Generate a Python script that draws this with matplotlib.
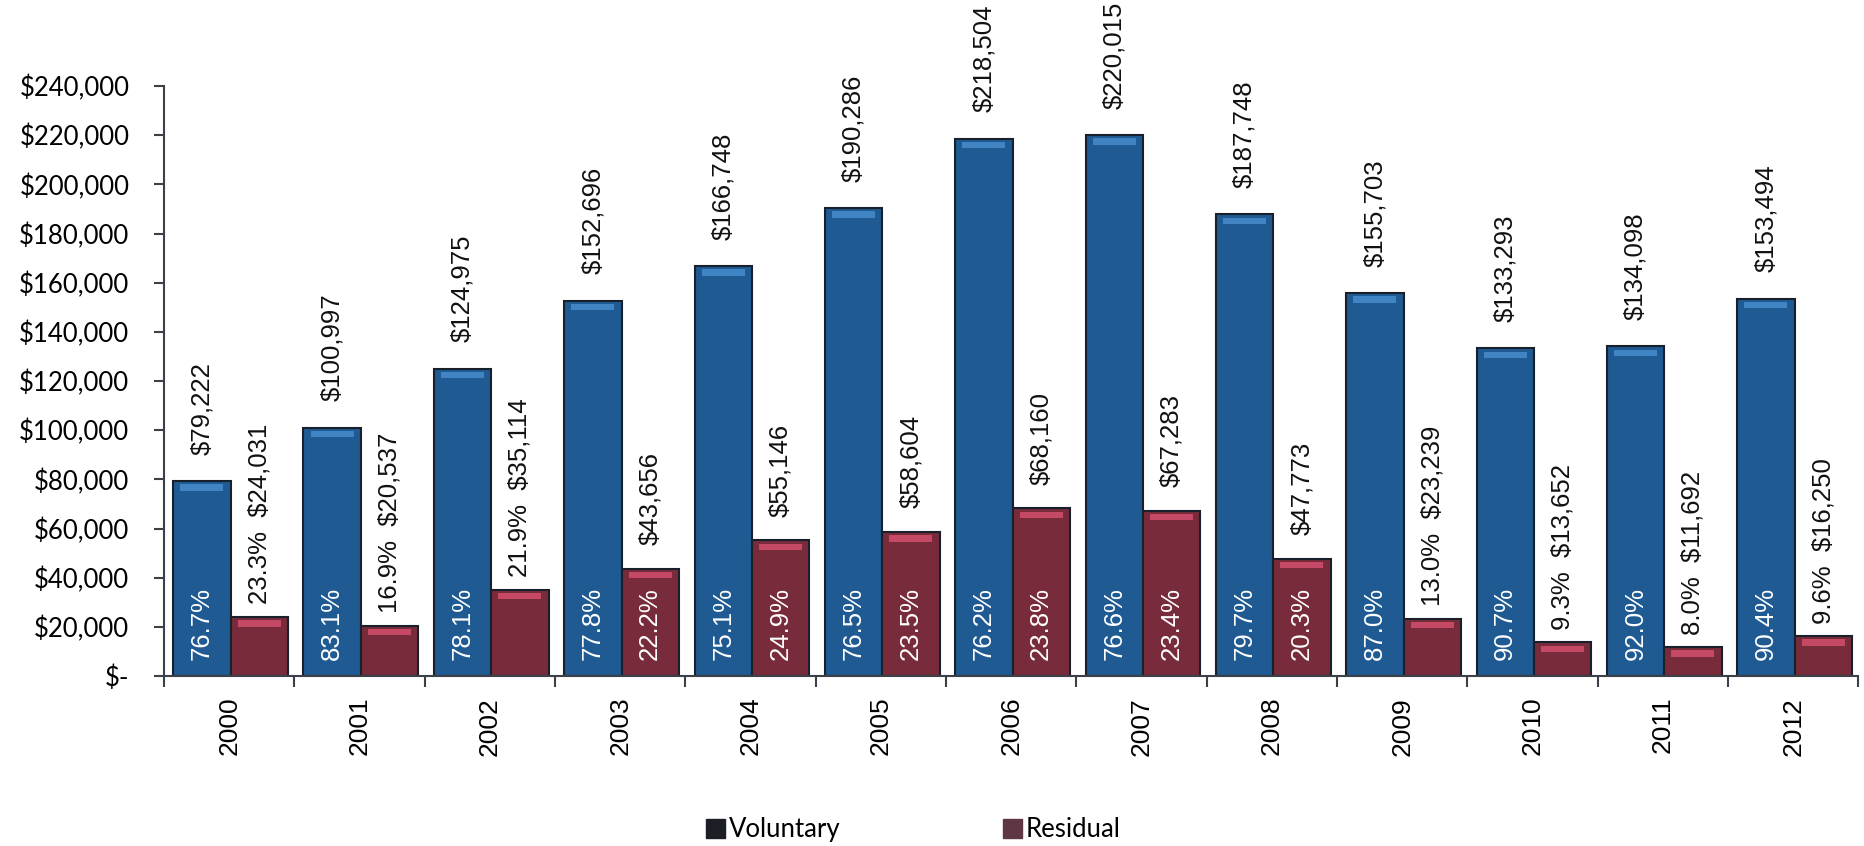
import matplotlib
matplotlib.use('Agg')
import matplotlib.pyplot as plt, numpy as np
from matplotlib.patches import Patch
from matplotlib.ticker import FuncFormatter, FixedLocator

years = ['2000', '2001', '2002', '2003', '2004', '2005', '2006', '2007', '2008', '2009', '2010', '2011', '2012']
voluntary = [79222, 100997, 124975, 152696, 166748, 190286, 218504, 220015, 187748, 155703, 133293, 134098, 153494]
residual = [24031, 20537, 35114, 43656, 55146, 58604, 68160, 67283, 47773, 23239, 13652, 11692, 16250]
vol_pct = ['76.7%', '83.1%', '78.1%', '77.8%', '75.1%', '76.5%', '76.2%', '76.6%', '79.7%', '87.0%', '90.7%', '92.0%', '90.4%']
res_pct = ['23.3%', '16.9%', '21.9%', '22.2%', '24.9%', '23.5%', '23.8%', '23.4%', '20.3%', '13.0%', '9.3%', '8.0%', '9.6%']

pal = {'b': '#1f5a93', 'bh': '#4a8fd0', 'r': '#782c3b', 'rh': '#d9506f', 'edge': '#18202c', 'ax': '#3c4048'}
lab_font = 'Liberation Sans'
tick_font = 'Lato'

fig = plt.figure(figsize=(18.64, 8.46), dpi=100)
ax = fig.add_axes([0.088, 0.2009, 0.909, 0.6974])

x = np.arange(len(years))
w = 0.44
xv, xr = x - 0.21, x + 0.23
ax.bar(xv, voluntary, width=w, color=pal['b'], edgecolor=pal['edge'], lw=1.5, zorder=2)
ax.bar(xr, residual, width=w, color=pal['r'], edgecolor=pal['edge'], lw=1.5, zorder=2)
# glossy strip under the top of each bar
hl = 2600
ax.bar(xv, hl, width=w * 0.75, bottom=np.array(voluntary) - hl - 1300, color=pal['bh'], lw=0, zorder=3, alpha=0.8)
ax.bar(xr, hl, width=w * 0.75, bottom=np.array(residual) - hl - 1300, color=pal['rh'], lw=0, zorder=3, alpha=0.8)

fmt = lambda v: '$' + format(v, ',')
kw = dict(textcoords='offset points', rotation=90, ha='center', va='bottom', family=lab_font, fontsize=18.5)
for i in range(len(years)):
	ax.annotate(fmt(voluntary[i]), (xv[i], voluntary[i]), xytext=(0, 19), color='#111111', **kw)
	ax.annotate(vol_pct[i], (xv[i], 0), xytext=(0, 11.5), color='white', **kw)
	if residual[i] >= 40000:
		ax.annotate(res_pct[i], (xr[i], 0), xytext=(0, 11.5), color='white', **kw)
		ax.annotate(fmt(residual[i]), (xr[i], residual[i]), xytext=(0, 17), color='#111111', **kw)
	else:
		ax.annotate(res_pct[i] + '  ' + fmt(residual[i]), (xr[i], residual[i]), xytext=(0, 9), color='#111111', **kw)

ax.set_xlim(-0.5, len(years) - 0.5)
ax.set_ylim(0, 240000)
ax.yaxis.set_major_locator(FixedLocator(np.arange(0, 240001, 20000)))
ax.yaxis.set_major_formatter(FuncFormatter(lambda v, p: '$-' if v == 0 else fmt(int(v))))
ax.tick_params(axis='y', direction='out', length=7, width=1.5, color=pal['ax'], pad=18, labelsize=18.5)
for t in ax.get_yticklabels():
	t.set_family(tick_font)

ax.set_xticks(np.arange(-0.5, len(years), 1.0))
ax.set_xticklabels([])
ax.set_xticks(x, minor=True)
ax.set_xticklabels(years, minor=True, rotation=90, family=lab_font, fontsize=19, va='top')
ax.tick_params(axis='x', which='major', direction='out', length=8, width=1.5, color=pal['ax'])
ax.tick_params(axis='x', which='minor', length=0, pad=15)

for s in ['top', 'right']:
	ax.spines[s].set_visible(False)
for s in ['left', 'bottom']:
	ax.spines[s].set_color(pal['ax'])
	ax.spines[s].set_linewidth(1.5)

handles = [Patch(facecolor='#1b1e24', edgecolor='#1b1e24', label='Voluntary'),
		   Patch(facecolor='#5e3644', edgecolor='#5e3644', label='Residual')]
fig.legend(handles=handles, loc='center', bbox_to_anchor=(0.49, 0.019), ncol=2, frameon=False,
		   prop={'family': tick_font, 'size': 18.5}, handlelength=0.75, handleheight=0.75,
		   handletextpad=0.15, columnspacing=6.3)

fig.savefig('out.png', dpi=100, facecolor='white')
